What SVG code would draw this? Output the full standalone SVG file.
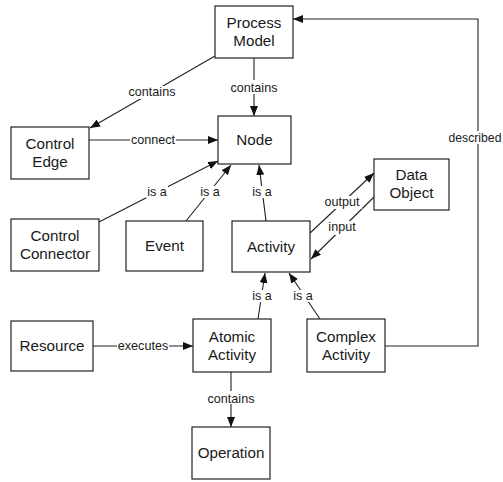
<svg xmlns="http://www.w3.org/2000/svg" width="503" height="482" viewBox="0 0 503 482">
  <style>
    .box { fill: #ffffff; stroke: #222222; stroke-width: 1.2; }
    .name { font-family: "Liberation Sans", Arial, sans-serif; font-size: 15.2px; fill: #1a1a1a; text-anchor: middle; }
    .edge { fill: none; stroke: #222222; stroke-width: 1.1; }
    .lbl { font-family: "Liberation Sans", Arial, sans-serif; font-size: 12.6px; fill: #1a1a1a; text-anchor: middle; }
    .lbg { fill: #ffffff; stroke: none; }
  </style>
  <defs>
    <marker id="arrow" viewBox="0 0 10 8" refX="10" refY="4" markerWidth="10" markerHeight="8" markerUnits="userSpaceOnUse" orient="auto">
      <path d="M0,0 L10,4 L0,8 Z" fill="#111111"/>
    </marker>
  </defs>

  <!-- connectors -->
  <g id="connectors">
    <line class="edge" x1="215" y1="56" x2="90" y2="128" marker-end="url(#arrow)"/>
    <line class="edge" x1="254" y1="58" x2="254" y2="116" marker-end="url(#arrow)"/>
    <line class="edge" x1="89" y1="140" x2="218" y2="140" marker-end="url(#arrow)"/>
    <line class="edge" x1="99" y1="222" x2="218" y2="161" marker-end="url(#arrow)"/>
    <line class="edge" x1="186" y1="221" x2="231" y2="165" marker-end="url(#arrow)"/>
    <line class="edge" x1="266" y1="221" x2="259" y2="165" marker-end="url(#arrow)"/>
    <line class="edge" x1="310" y1="233" x2="374" y2="173" marker-end="url(#arrow)"/>
    <line class="edge" x1="374" y1="197" x2="311" y2="259" marker-end="url(#arrow)"/>
    <line class="edge" x1="258" y1="319" x2="265" y2="273" marker-end="url(#arrow)"/>
    <line class="edge" x1="320" y1="319" x2="289" y2="273" marker-end="url(#arrow)"/>
    <line class="edge" x1="93" y1="346" x2="193" y2="346" marker-end="url(#arrow)"/>
    <line class="edge" x1="231" y1="372" x2="231" y2="427" marker-end="url(#arrow)"/>
    <polyline class="edge" points="385,346 478,346 478,19 293,19" marker-end="url(#arrow)"/>

    <!-- connector labels -->
    <rect class="lbg" x="126" y="86" width="52" height="13"/>
    <text class="lbl" x="152" y="96">contains</text>
    <rect class="lbg" x="228" y="80" width="52" height="14"/>
    <text class="lbl" x="254" y="91.5">contains</text>
    <rect class="lbg" x="130" y="134" width="46" height="12"/>
    <text class="lbl" x="153" y="144">connect</text>
    <rect class="lbg" x="146" y="186" width="22" height="12"/>
    <text class="lbl" x="157" y="195.5">is a</text>
    <rect class="lbg" x="199" y="186" width="22" height="12"/>
    <text class="lbl" x="210" y="195.5">is a</text>
    <rect class="lbg" x="251" y="186" width="22" height="12"/>
    <text class="lbl" x="262" y="196">is a</text>
    <rect class="lbg" x="322" y="196" width="40" height="13"/>
    <text class="lbl" x="342" y="206">output</text>
    <rect class="lbg" x="325" y="221" width="34" height="14"/>
    <text class="lbl" x="342" y="231">input</text>
    <rect class="lbg" x="251" y="290" width="22" height="12"/>
    <text class="lbl" x="262" y="300">is a</text>
    <rect class="lbg" x="292" y="290" width="22" height="12"/>
    <text class="lbl" x="303" y="300">is a</text>
    <rect class="lbg" x="117" y="340" width="52" height="12"/>
    <text class="lbl" x="143" y="350">executes</text>
    <rect class="lbg" x="205" y="391" width="52" height="13"/>
    <text class="lbl" x="231" y="402.5">contains</text>
    <rect class="lbg" x="448" y="131" width="55" height="13"/>
    <text class="lbl" x="475" y="141.5" style="font-size:12.2px">described</text>
  </g>

  <!-- nodes -->
  <g id="process-model">
    <rect class="box" x="215" y="6" width="78" height="52"/>
    <text class="name" x="254" y="28">Process</text>
    <text class="name" x="254" y="46">Model</text>
  </g>
  <g id="node">
    <rect class="box" x="218" y="116" width="73" height="48"/>
    <text class="name" x="254.5" y="145">Node</text>
  </g>
  <g id="control-edge">
    <rect class="box" x="11" y="127" width="78" height="52"/>
    <text class="name" x="50" y="149">Control</text>
    <text class="name" x="50" y="166.5">Edge</text>
  </g>
  <g id="control-connector">
    <rect class="box" x="11" y="219" width="88" height="52"/>
    <text class="name" x="55" y="241">Control</text>
    <text class="name" x="55" y="258.5">Connector</text>
  </g>
  <g id="event">
    <rect class="box" x="126" y="221" width="77" height="50"/>
    <text class="name" x="164.5" y="251">Event</text>
  </g>
  <g id="activity">
    <rect class="box" x="232" y="221" width="78" height="51"/>
    <text class="name" x="271" y="251.5">Activity</text>
  </g>
  <g id="data-object">
    <rect class="box" x="374" y="159" width="75" height="51"/>
    <text class="name" x="411.5" y="180">Data</text>
    <text class="name" x="411.5" y="198">Object</text>
  </g>
  <g id="resource">
    <rect class="box" x="11" y="321" width="82" height="50"/>
    <text class="name" x="52" y="351">Resource</text>
  </g>
  <g id="atomic-activity">
    <rect class="box" x="193" y="319" width="78" height="53"/>
    <text class="name" x="232" y="341.5">Atomic</text>
    <text class="name" x="232" y="359.5">Activity</text>
  </g>
  <g id="complex-activity">
    <rect class="box" x="307" y="319" width="78" height="53"/>
    <text class="name" x="346" y="341.5">Complex</text>
    <text class="name" x="346" y="359.5">Activity</text>
  </g>
  <g id="operation">
    <rect class="box" x="192" y="427" width="78" height="52"/>
    <text class="name" x="231" y="457.5">Operation</text>
  </g>
</svg>
